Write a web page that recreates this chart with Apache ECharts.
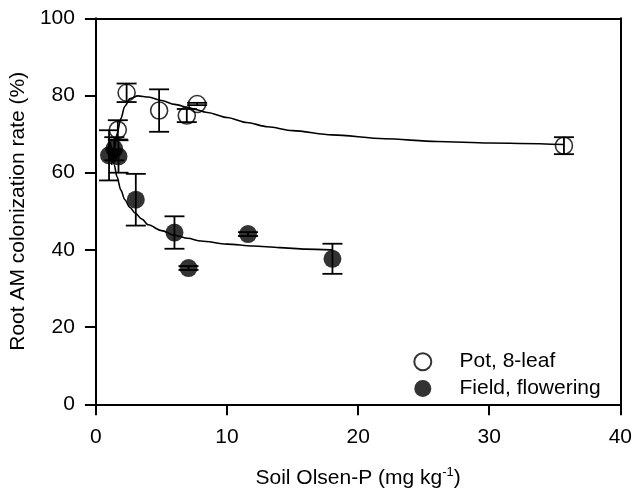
<!DOCTYPE html>
<html>
<head>
<meta charset="utf-8">
<script src="https://cdn.jsdelivr.net/npm/echarts@6/dist/echarts.min.js"></script>
<style>html,body{margin:0;padding:0;background:#fff}#c{width:635px;height:499px}</style>
</head>
<body>
<div id="c"></div>
<script>
// Pot, 8-leaf (open circles)
var potX   = [1.67, 2.34, 4.82, 6.93, 7.72, 35.7];
var potY   = [71.1, 80.7, 76.1, 74.8, 77.8, 67.0];
var potErr = [2.5, 2.4, 5.5, 1.7, 0.3, 2.2];
// Field, flowering (filled circles)
var fieldX   = [1.0, 1.4, 1.72, 3.04, 5.99, 7.06, 11.6, 18.04];
var fieldY   = [64.5, 66.2, 64.2, 53.0, 44.5, 35.3, 44.1, 37.7];
var fieldErr = [6.5, 3.0, 4.2, 6.7, 4.2, 0.5, 0.5, 3.9];
// fitted curves
var potFitX = [1.2, 1.4, 1.6, 1.9, 2.2, 2.6, 3.2, 4.0, 5.0, 6.0, 7.2, 8.5, 10.0, 11.5, 13.1, 15.0, 18.0, 22.0, 26.0, 30.0, 35.7];
var potFitY = [62.0, 66.0, 70.0, 74.0, 77.2, 79.2, 79.9, 79.6, 78.7, 77.7, 76.7, 75.6, 74.3, 73.0, 71.9, 70.9, 69.8, 68.8, 68.1, 67.7, 67.3];
var fieldFitX = [1.1, 1.2, 1.4, 1.6, 1.9, 2.2, 2.6, 3.0, 3.5, 4.0, 5.0, 6.0, 7.0, 8.0, 10.0, 12.0, 14.0, 16.0, 18.0];
var fieldFitY = [68.0, 66.0, 62.0, 59.0, 55.5, 53.0, 51.0, 49.5, 48.0, 46.5, 45.0, 43.8, 43.0, 42.3, 41.5, 41.0, 40.6, 40.2, 40.0];
// axis ticks
var xTicks = {min: 0, max: 40, interval: 10};
var yTicks = {min: 0, max: 100, interval: 20};

var FONT = '"Liberation Sans", Arial, sans-serif';
function zip3(a, b, c) { return a.map(function (v, i) { return [v, b[i], c[i]]; }); }
function zip2(a, b) { return a.map(function (v, i) { return [v, b[i]]; }); }

function errRender(params, api) {
  var x = api.value(0), y = api.value(1), e = api.value(2);
  var t = api.coord([x, y + e]), b = api.coord([x, y - e]);
  var w = 10, st = {stroke: '#000', lineWidth: 1.8};
  return {type: 'group', children: [
    {type: 'line', shape: {x1: t[0], y1: t[1], x2: b[0], y2: b[1]}, style: st},
    {type: 'line', shape: {x1: t[0] - w, y1: t[1], x2: t[0] + w, y2: t[1]}, style: st},
    {type: 'line', shape: {x1: b[0] - w, y1: b[1], x2: b[0] + w, y2: b[1]}, style: st}
  ]};
}

var chart = echarts.init(document.getElementById('c'));
var axisLine = {show: true, onZero: false, lineStyle: {color: '#000', width: 2}};
chart.setOption({
  animation: false,
  textStyle: {fontFamily: FONT},
  grid: {left: 83.5, right: 14.5, top: 18.3, bottom: 94.7, show: false},
  xAxis: [{
    type: 'value', min: xTicks.min, max: xTicks.max, interval: xTicks.interval,
    axisLine: axisLine, splitLine: {show: false},
    axisTick: {show: true, inside: false, length: 11, lineStyle: {color: '#000', width: 2}},
    axisLabel: {color: '#000', fontSize: 21, fontFamily: FONT, margin: 22},
    name: '{a|Soil Olsen-P (mg kg}{b|-1}{a|)}', nameLocation: 'middle', nameGap: 62,
    nameTextStyle: {rich: {
      a: {fontSize: 21, fontFamily: FONT, color: '#000', lineHeight: 24},
      b: {fontSize: 13, fontFamily: FONT, color: '#000', lineHeight: 14, verticalAlign: 'top'}
    }}
  }, {
    type: 'value', position: 'top', min: xTicks.min, max: xTicks.max,
    axisLine: axisLine, axisTick: {show: false}, axisLabel: {show: false}, splitLine: {show: false}
  }],
  yAxis: [{
    type: 'value', min: yTicks.min, max: yTicks.max, interval: yTicks.interval,
    axisLine: axisLine, splitLine: {show: false},
    axisTick: {show: true, inside: false, length: 11, lineStyle: {color: '#000', width: 2}},
    axisLabel: {color: '#000', fontSize: 21, fontFamily: FONT, margin: 21},
    name: 'Root AM colonization rate (%)', nameLocation: 'middle', nameGap: 52,
    nameTextStyle: {color: '#000', fontSize: 21, fontFamily: FONT}
  }, {
    type: 'value', position: 'right', min: yTicks.min, max: yTicks.max,
    axisLine: axisLine, axisTick: {show: false}, axisLabel: {show: false}, splitLine: {show: false}
  }],
  legend: {
    orient: 'vertical', left: 408.3, top: 345.7, itemWidth: 63.4, itemHeight: 17, itemGap: 4.7,
    icon: 'circle',
    textStyle: {fontSize: 21, fontFamily: FONT, color: '#000', lineHeight: 22},
    data: ['Pot, 8-leaf', 'Field, flowering']
  },
  series: [
    {type: 'line', data: zip2(potFitX, potFitY), smooth: 0.3, smoothMonotone: 'x', showSymbol: false, silent: true,
     lineStyle: {color: '#000', width: 1.6}, z: 1},
    {type: 'line', data: zip2(fieldFitX, fieldFitY), smooth: 0.3, smoothMonotone: 'x', showSymbol: false, silent: true,
     lineStyle: {color: '#000', width: 1.6}, z: 1},
    {type: 'custom', renderItem: errRender, data: zip3(potX, potY, potErr), z: 2},
    {type: 'custom', renderItem: errRender, data: zip3(fieldX, fieldY, fieldErr), z: 2},
    {name: 'Pot, 8-leaf', type: 'scatter', data: zip2(potX, potY), symbol: 'circle', symbolSize: 17,
     itemStyle: {color: 'rgba(255,255,255,0)', borderColor: '#000', borderWidth: 1.6}, z: 3},
    {name: 'Field, flowering', type: 'scatter', data: zip2(fieldX, fieldY), symbol: 'circle', symbolSize: 18,
     itemStyle: {color: '#000', borderColor: '#000', borderWidth: 0}, z: 3}
  ]
});
</script>
</body>
</html>
